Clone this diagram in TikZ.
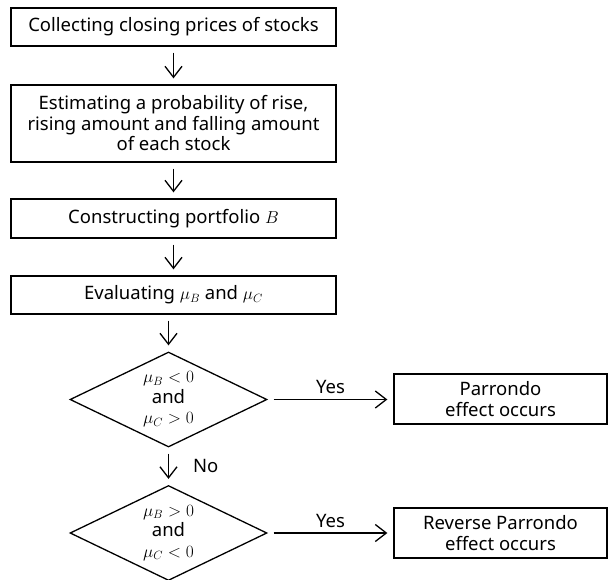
\documentclass[tikz,border=0pt]{standalone}
\usepackage{fontspec}
\setmainfont{Noto Sans}
\usetikzlibrary{shapes.geometric,arrows.meta}
\tikzset{
  box/.style={draw, line width=1.3pt, minimum width=325pt, align=center, inner sep=0pt},
  dia/.style={draw, line width=1.3pt, diamond, minimum width=197pt, minimum height=95pt, inner sep=0pt},
  res/.style={draw, line width=1.3pt, minimum width=213pt, minimum height=50pt, align=center, inner sep=0pt},
  flow/.style={line width=1.3pt, -{Straight Barb[length=11pt,width=17pt,line width=1.3pt]}, shorten <=6pt, shorten >=6pt},
  lbl/.style={inner sep=0pt, font=\fontsize{18.5}{20.5}\selectfont}
}
\begin{document}
\begin{tikzpicture}[x=1pt,y=-1pt, font=\fontsize{18.5}{20.5}\selectfont]
\useasboundingbox (0,0) rectangle (610,579);
\node[box, minimum height=38pt] (b1) at (173.5,27) {Collecting closing prices of stocks};
\node[box, minimum height=77pt] (b2) at (173.5,123.5) {Estimating a probability of rise,\\rising amount and falling amount\\of each stock};
\node[box, minimum height=39pt] (b3) at (173.5,218.5) {Constructing portfolio $B$};
\node[box, minimum height=38pt] (b4) at (173.5,295) {Evaluating $\mu_B$ and $\mu_C$};
\node[dia] (d1) at (168.5,399.5) {};
\node[lbl, align=center] (t1) at (d1) {$\mu_B<0$\\and\\$\mu_C>0$};
\node[dia] (d2) at (168.5,533) {};
\node[lbl, align=center] (t2) at (d2) {$\mu_B>0$\\and\\$\mu_C<0$};
\node[res] (p1) at (500.5,399) {Parrondo\\effect occurs};
\node[res] (p2) at (500.5,533) {Reverse Parrondo\\effect occurs};
\draw[flow] (b1) -- (b2);
\draw[flow] (b2) -- (b3);
\draw[flow] (b3) -- (b4);
\draw[flow] (b4.south -| d1.north) -- (d1.north);
\draw[flow] (d1) -- node[lbl, right=24pt] (no) {No} (d2);
\draw[flow] (d1.east) -- node[lbl, above=5pt] (y1) {Yes} (p1.west |- d1.east);
\draw[flow] (d2.east) -- node[lbl, above=5pt] (y2) {Yes} (p2.west |- d2.east);
\end{tikzpicture}
\end{document}
